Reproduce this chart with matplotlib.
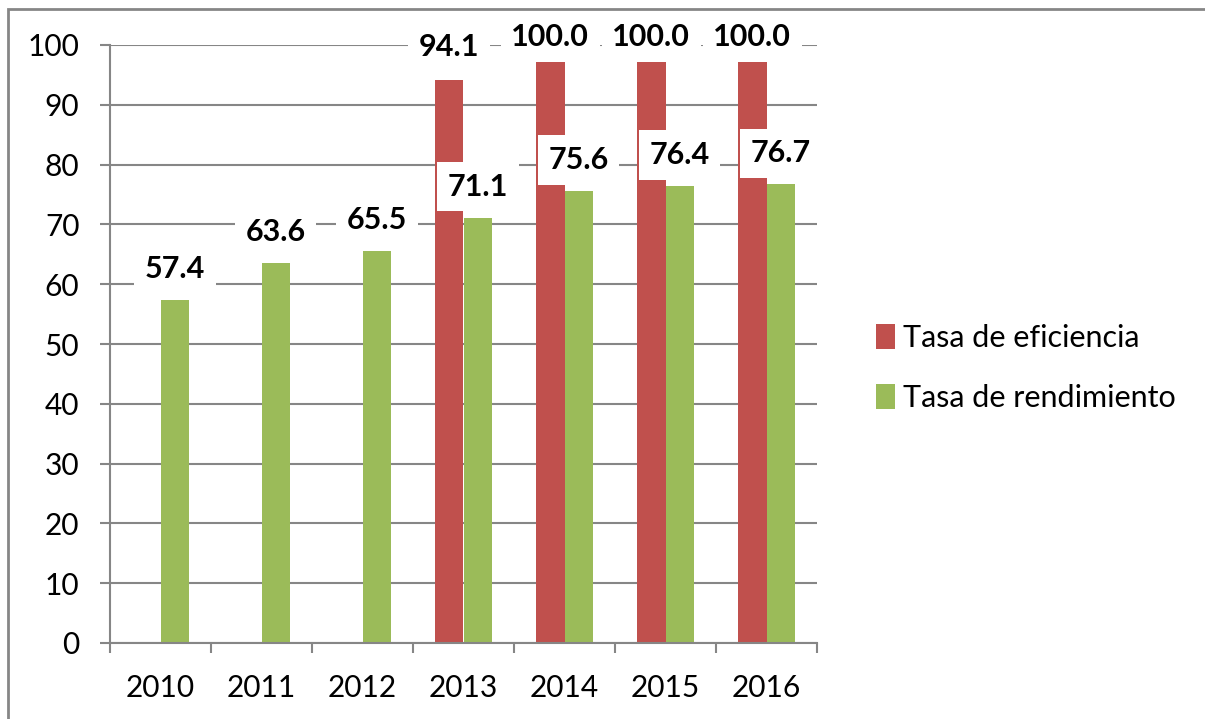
import matplotlib.pyplot as plt
import numpy as np
from matplotlib.patches import Rectangle

# Chart data
years = ['2010', '2011', '2012', '2013', '2014', '2015', '2016']
eficiencia = [None, None, None, 94.1, 100.0, 100.0, 100.0]
rendimiento = [57.4, 63.6, 65.5, 71.1, 75.6, 76.4, 76.7]

RED = '#C0504D'
GREEN = '#9BBB59'
GRID = '#868686'

plt.rcParams['font.family'] = ['Lato', 'DejaVu Sans']

fig = plt.figure(figsize=(12.05, 7.19), dpi=100)
ax = fig.add_axes([110 / 1205, 1 - 643 / 719, (817 - 110) / 1205, (643 - 45) / 719])

x = np.arange(len(years))
w = 0.28

eff_x = [xi for xi, v in zip(x, eficiencia) if v is not None]
eff_v = [v for v in eficiencia if v is not None]

ax.bar(np.array(eff_x) - w / 2, eff_v, width=w, color=RED, zorder=2,
       label='Tasa de eficiencia')
ax.bar(x + w / 2, rendimiento, width=w, color=GREEN, zorder=2,
       label='Tasa de rendimiento')

# value labels with white boxes
box = dict(boxstyle='square,pad=0.35', facecolor='white', edgecolor='none')
for xi, v in zip(eff_x, eff_v):
    ax.text(xi - w / 2, min(v + 5.5, 101.3), f'{v:.1f}', ha='center', va='center',
            fontsize=22, fontweight='bold', bbox=box, zorder=5, clip_on=False)
for xi, v in zip(x, rendimiento):
    ax.text(xi + w / 2, v + 5.2, f'{v:.1f}', ha='center', va='center',
            fontsize=22, fontweight='bold', bbox=box, zorder=5, clip_on=False)

ax.set_xlim(-0.5, len(years) - 0.5)
ax.set_ylim(0, 100)
ax.set_yticks(np.arange(0, 101, 10))
ax.yaxis.grid(True, color=GRID, linewidth=1.5, zorder=0)
ax.set_axisbelow(True)

ax.set_xticks(x)
ax.set_xticklabels(years)
ax.set_xticks(np.arange(-0.5, len(years)), minor=True)
ax.tick_params(axis='x', which='major', length=0, pad=22, labelsize=21.5)
ax.tick_params(axis='x', which='minor', length=7, width=1.5, color=GRID)
ax.tick_params(axis='y', length=7, width=1.5, color=GRID, pad=15, labelsize=21.5)

for side in ['top', 'right']:
    ax.spines[side].set_visible(False)
for side in ['left', 'bottom']:
    ax.spines[side].set_color(GRID)
    ax.spines[side].set_linewidth(1.5)

leg = ax.legend(loc='center left', bbox_to_anchor=(848 / 1205, 1 - 368 / 719),
                bbox_transform=fig.transFigure, frameon=False, fontsize=22,
                handlelength=0.65, handleheight=0.9, handletextpad=0.25,
                labelspacing=1.05)

# outer chart frame
fig.patches.append(Rectangle((8 / 1205, -0.05), 1.2, 1.05 - 9 / 719,
                             transform=fig.transFigure, fill=False,
                             edgecolor=GRID, linewidth=2))

fig.savefig('out.png', dpi=100)
